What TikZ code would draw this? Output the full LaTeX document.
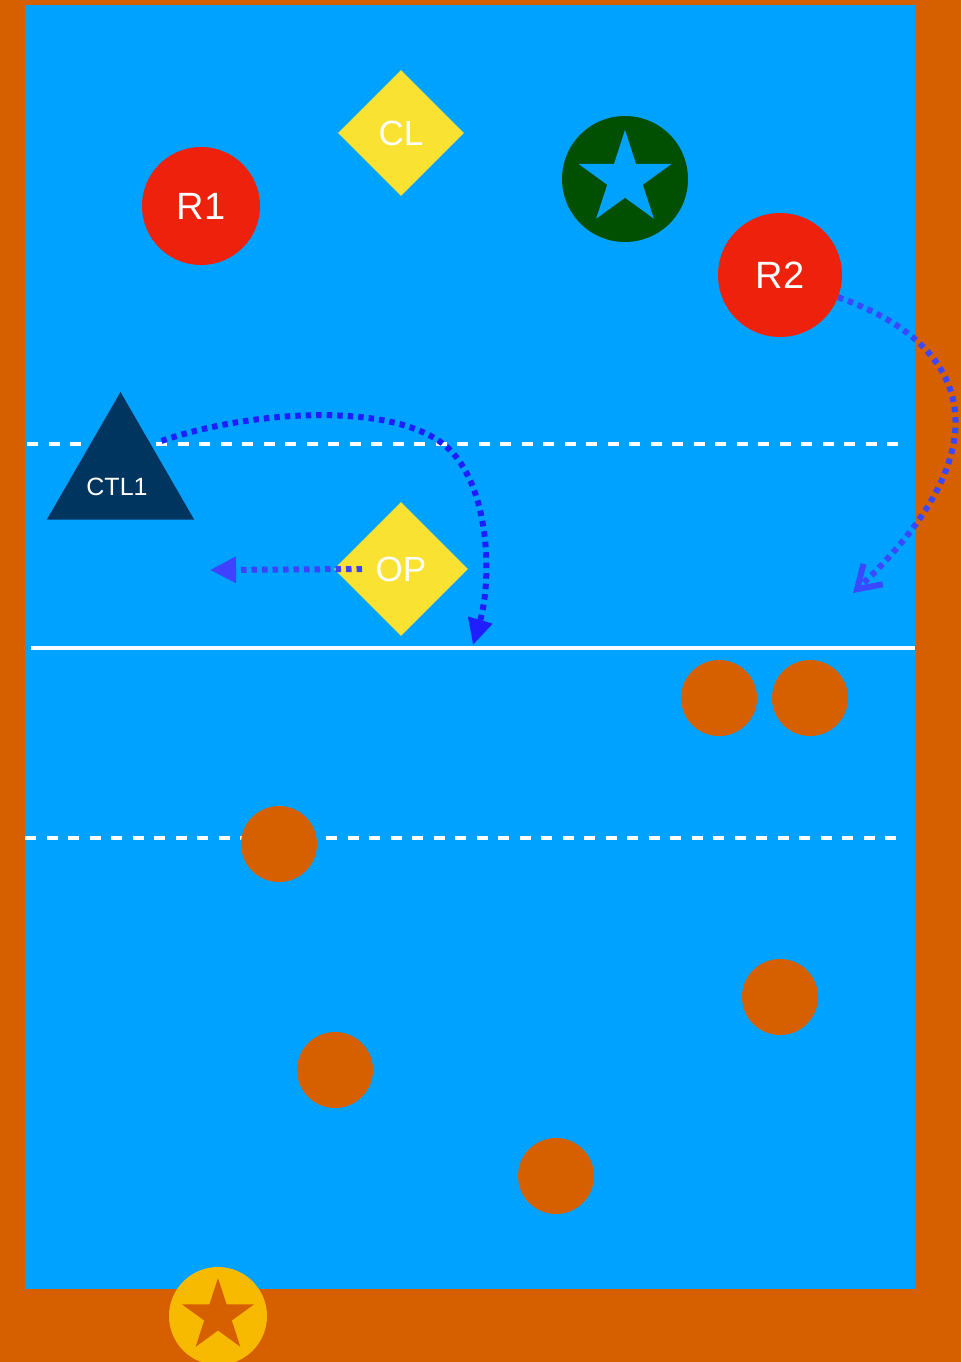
\documentclass[tikz,border=0pt]{standalone}
\usepackage{fontspec}
\setmainfont{Liberation Sans}
\usetikzlibrary{shapes.geometric,arrows.meta}
\definecolor{bord}{HTML}{D65F00}
\definecolor{field}{HTML}{00A2FF}
\definecolor{redp}{HTML}{EE220C}
\definecolor{yel}{HTML}{FAE232}
\definecolor{dgreen}{HTML}{014F00}
\definecolor{navy}{HTML}{003560}
\definecolor{gold}{HTML}{F8BA00}
\definecolor{blueA}{HTML}{1E1EFF}
\definecolor{blueB}{HTML}{4040FF}
\definecolor{blueC}{HTML}{3A48FF}
\begin{document}
\begin{tikzpicture}[x=1pt,y=-1pt,
  player/.style={circle,fill=redp,inner sep=0pt,text=white,font=\fontsize{38}{40}\selectfont},
  cone/.style={diamond,aspect=1,fill=yel,inner sep=0pt,text=white,font=\fontsize{35}{38}\selectfont},
  ball/.style={circle,fill=bord,inner sep=0pt,minimum size=76pt},
  courtline/.style={draw=white,line width=4pt},
  dashline/.style={courtline,dash pattern=on 11pt off 10.5pt},
  dotarrow/.style={line width=6pt,dash pattern=on 5.5pt off 5pt}]
\useasboundingbox (0,0) rectangle (961,1362);
\fill[bord] (0,0) rectangle (961,1362);
\fill[field] (25,5) rectangle (915,1289);
% court lines
\coordinate (d1a) at (27,444); \coordinate (d1b) at (905,444);
\coordinate (s1a) at (31,648); \coordinate (s1b) at (915,648);
\coordinate (d2a) at (25,838); \coordinate (d2b) at (905,838);
\draw[dashline] (d1a) -- (d1b);
\draw[courtline] (s1a) -- (s1b);
\draw[dashline] (d2a) -- (d2b);
% players and cones
\node[player,minimum size=118pt] (r1) at (201,206) {R1};
\node[player,minimum size=124pt] (r2) at (780,275) {R2};
\node[cone,minimum width=126pt,minimum height=126pt] (cl) at (401,133) {CL};
\node[cone,minimum width=134pt,minimum height=134pt] (op) at (401,569) {OP};
\node[circle,fill=dgreen,inner sep=0pt,minimum size=126pt] (gs) at (625,179) {};
\node[star,star points=5,star point ratio=2.618,fill=field,inner sep=0pt,minimum size=98pt] (gsi) at (625,179) {};
\node[regular polygon,regular polygon sides=3,fill=navy,inner sep=0pt,minimum size=170pt] (ctl) at (120.5,477) {};
\node[text=white,font=\fontsize{25}{27}\selectfont,inner sep=0pt] (ctlt) at (117,487) {CTL1};
% balls
\node[ball] (b1) at (719,698) {};
\node[ball] (b2) at (810,698) {};
\node[ball] (b3) at (279,844) {};
\node[ball] (b4) at (780,997) {};
\node[ball] (b5) at (335,1070) {};
\node[ball] (b6) at (556,1176) {};
% bottom star
\node[circle,fill=gold,inner sep=0pt,minimum size=98pt] (bs) at (218,1316) {};
\node[star,star points=5,star point ratio=2.618,fill=bord,inner sep=0pt,minimum size=76pt] (bsi) at (218,1316) {};
% arrows
\coordinate (e1) at (473,645);
\coordinate (m1) at (450,450);
\coordinate (e2) at (210,570);
\coordinate (e3) at (853,593);
\draw[dotarrow,draw=blueA,-{Triangle[length=26pt,width=24pt]}]
  ([xshift=41pt,yshift=36pt]ctl.center) .. controls (250,410) and (400,400) .. (m1)
  .. controls (490,490) and (492,580) .. (e1);
\draw[dotarrow,draw=blueB,-{Triangle[length=26pt,width=25pt]}]
  ([xshift=-39pt]op.center) -- (e2);
\draw[dotarrow,draw=blueC,-{Straight Barb[length=22pt,width=28pt]}]
  (r2.-21) .. controls (975,345) and (1005,450) .. (e3);
\end{tikzpicture}
\end{document}
